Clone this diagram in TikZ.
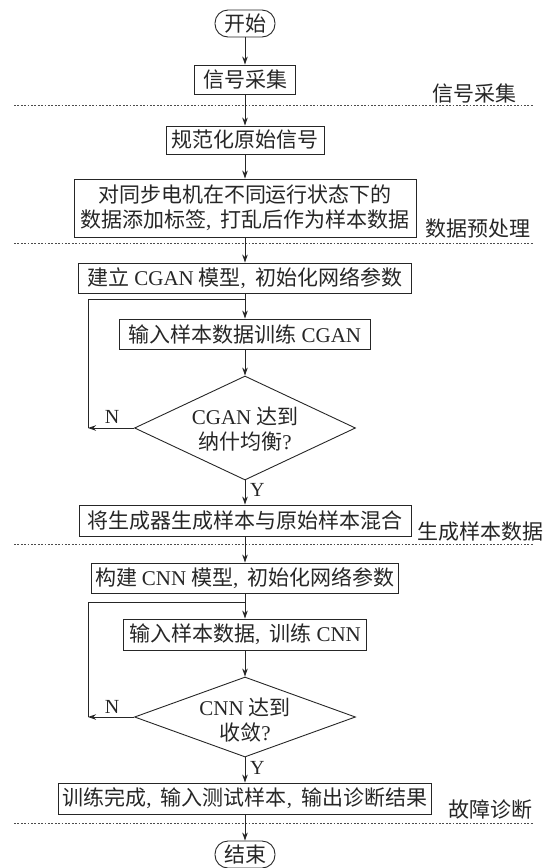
\documentclass[tikz,border=0pt]{standalone}
\usepackage{fontspec}
\setmainfont{Noto Sans CJK SC}
\newfontfamily\latfont{Liberation Serif}
\newcommand{\latw}[1]{{\latfont #1}}
\newcommand{\cmm}{\latw{,}\hspace{0.45em}}
\usetikzlibrary{arrows.meta,shapes.geometric}
\begin{document}
\begin{tikzpicture}[x=1pt,y=-1pt,
  every node/.style={font=\fontsize{21}{25}\selectfont, text=black!85},
  box/.style={draw=black!85, line width=0.9pt, inner sep=0pt, align=center},
  term/.style={box, rounded corners=13pt},
  dec/.style={diamond, draw=black!85, line width=0.9pt, inner sep=0pt, minimum width=221pt},
  flow/.style={draw=black!85, line width=0.9pt, -{Stealth[length=8pt,width=5.5pt]}},
  plain/.style={draw=black!85, line width=0.9pt},
  sep/.style={draw=black!70, line width=0.6pt, dash pattern=on 1.8pt off 1.6pt},
  side/.style={anchor=west, inner sep=0pt},
  yn/.style={inner sep=0pt, font=\fontsize{20}{24}\selectfont\latfont}
]
\useasboundingbox (0,0) rectangle (551,868);

% nodes
\node[term, minimum width=60pt, minimum height=27pt] (start) at (245,23.5) {开始};
\node[box, minimum width=101pt, minimum height=29pt] (s1) at (245,79.5) {信号采集};
\node[box, minimum width=158pt, minimum height=28pt] (s2) at (245,140) {规范化原始信号};
\node[box, minimum width=342pt, minimum height=58pt] (s3) at (245,208) {对同步电机在不同运行状态下的\\数据添加标签\cmm 打乱后作为样本数据};
\node[box, minimum width=333pt, minimum height=30pt] (s4) at (245,278) {建立 \latw{CGAN} 模型\cmm 初始化网络参数};
\node[box, minimum width=251pt, minimum height=30pt] (s5) at (245,334) {输入样本数据训练 \latw{CGAN}};
\node[dec, minimum height=104pt] (d1) at (245,428) {};
\node[align=center, inner sep=0pt] (d1t) at (245,429) {\latw{CGAN} 达到\\纳什均衡\latw{?}};
\node[box, minimum width=332pt, minimum height=31pt] (s6) at (245,520.5) {将生成器生成样本与原始样本混合};
\node[box, minimum width=307pt, minimum height=30pt] (s7) at (245,578) {构建 \latw{CNN} 模型\cmm 初始化网络参数};
\node[box, minimum width=243pt, minimum height=31pt] (s8) at (245,634.5) {输入样本数据\cmm 训练 \latw{CNN}};
\node[dec, minimum height=80pt] (d2) at (245,717) {};
\node[align=center, inner sep=0pt] (d2t) at (245,720) {\latw{CNN} 达到\\收敛\latw{?}};
\node[box, minimum width=373pt, minimum height=31pt] (s9) at (245,798.5) {训练完成\cmm 输入测试样本\cmm 输出诊断结果};
\node[term, minimum width=60pt, minimum height=27pt] (stop) at (245,854.5) {结束};

% side labels
\node[side] (lab1) at (432,94) {信号采集};
\node[side] (lab2) at (425,229) {数据预处理};
\node[side] (lab3) at (417,532) {生成样本数据};
\node[side] (lab4) at (448,810) {故障诊断};

% separators
\foreach \yy in {105.5,243.5,544.5,823}{
  \draw[sep] (14,\yy) -- (533,\yy);
}

% main flow
\draw[flow] (start.south) -- (s1.north);
\draw[flow] (s1.south) -- (s2.north);
\draw[flow] (s2.south) -- (s3.north);
\draw[flow] (s3.south) -- (s4.north);
\draw[flow] (s4.south) -- (s5.north);
\draw[flow] (s5.south) -- (d1.north);
\draw[flow] (d1.south) -- (s6.north);
\draw[flow] (s6.south) -- (s7.north);
\draw[flow] (s7.south) -- (s8.north);
\draw[flow] (s8.south) -- (d2.north);
\draw[flow] (d2.south) -- (s9.north);
\draw[flow] (s9.south) -- (stop.north);

% loops
\coordinate (l1) at (88,428);
\coordinate (j1) at (245,299);
\coordinate (c1) at (88,299);
\draw[flow] (d1.west) -- (l1);
\draw[plain] (l1) -- (c1) -- (j1);
\coordinate (l2) at (88,717);
\coordinate (j2) at (245,602);
\coordinate (c2) at (88,602);
\draw[flow] (d2.west) -- (l2);
\draw[plain] (l2) -- (c2) -- (j2);

% Y / N labels
\node[yn] (n1) at (112,417) {N};
\node[yn, anchor=west] (y1) at (250,490) {Y};
\node[yn] (n2) at (112,707) {N};
\node[yn, anchor=west] (y2) at (250,768) {Y};
\end{tikzpicture}
\end{document}
